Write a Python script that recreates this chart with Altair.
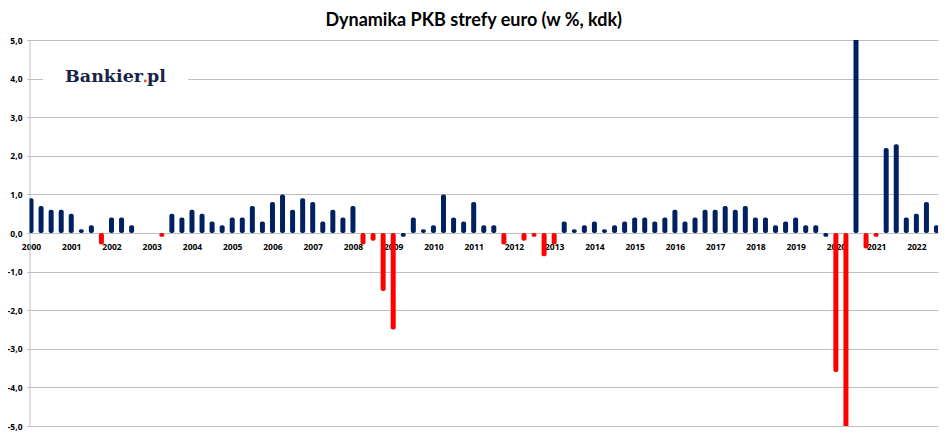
import altair as alt
import pandas as pd

# Kwartalna dynamika PKB strefy euro (% kdk), 2000Q1 - 2022Q3
pierwszy_rok = 2000
dynamika = [
    0.9, 0.7, 0.6, 0.6,     # 2000
    0.5, 0.1, 0.2, -0.3,    # 2001
    0.4, 0.4, 0.2, 0.0,     # 2002
    0.0, -0.1, 0.5, 0.4,    # 2003
    0.6, 0.5, 0.3, 0.2,     # 2004
    0.4, 0.4, 0.7, 0.3,     # 2005
    0.8, 1.0, 0.6, 0.9,     # 2006
    0.8, 0.3, 0.6, 0.4,     # 2007
    0.7, -0.3, -0.2, -1.5,  # 2008
    -2.5, -0.1, 0.4, 0.1,   # 2009
    0.2, 1.0, 0.4, 0.3,     # 2010
    0.8, 0.2, 0.2, -0.3,    # 2011
    0.0, -0.2, -0.1, -0.6,  # 2012
    -0.3, 0.3, 0.1, 0.2,    # 2013
    0.3, 0.1, 0.2, 0.3,     # 2014
    0.4, 0.4, 0.3, 0.4,     # 2015
    0.6, 0.3, 0.4, 0.6,     # 2016
    0.6, 0.7, 0.6, 0.7,     # 2017
    0.4, 0.4, 0.2, 0.3,     # 2018
    0.4, 0.2, 0.2, -0.1,    # 2019
    -3.6, -11.1, 12.6, -0.4,  # 2020
    -0.1, 2.2, 2.3, 0.4,    # 2021
    0.5, 0.8, 0.2,          # 2022
]
# ujemne kwartały narysowane w oryginale na granatowo
niebieskie_ujemne = ["2009Q2", "2019Q4"]
tytul = "Dynamika PKB strefy euro (w %, kdk)"

rows = []
for i, v in enumerate(dynamika):
    okres = f"{pierwszy_rok + i // 4}Q{i % 4 + 1}"
    kolor = "spadek" if (v < 0 and okres not in niebieskie_ujemne) else "wzrost"
    rows.append({"idx": i, "okres": okres, "wartosc": v, "zero": 0.0, "kolor": kolor})
df = pd.DataFrame(rows)

W = 908.5
H = 386
GRID = "#bfbfbf"
FONT = "Open Sans"

x_enc = alt.X(
    "idx:Q",
    scale=alt.Scale(domain=[-0.15, len(dynamika) - 1 + 0.15], nice=False, zero=False, padding=0),
    axis=alt.Axis(
        values=list(range(0, len(dynamika), 4)),
        labelExpr=f"'' + ({pierwszy_rok} + datum.value / 4)",
        offset=-H / 2,
        grid=False, domain=False, ticks=False, tickSize=0,
        labelPadding=9, labelFlush=False, labelOverlap=False,
        labelFont=FONT, labelFontWeight="bold", labelFontSize=8.5,
        labelColor="black", title=None,
    ),
)
y_enc = alt.Y(
    "wartosc:Q",
    stack=None,
    scale=alt.Scale(domain=[-5, 5], nice=False, padding=0),
    axis=alt.Axis(
        values=list(range(-5, 6)),
        labelExpr="(datum.value < 0 ? '-' : '') + replace(format(abs(datum.value), '.1f'), '.', ',')",
        grid=True, gridColor=GRID, gridWidth=1,
        domain=True, domainColor=GRID,
        ticks=True, tickColor=GRID, tickSize=3,
        labelPadding=4.5, labelFont=FONT, labelFontWeight="bold",
        labelFontSize=8.5, labelColor="black", title=None,
    ),
)

bars = alt.Chart(df).mark_bar(
    orient="vertical", width=5, cornerRadius=2, clip=True
).encode(
    x=x_enc,
    y=y_enc,
    y2=alt.Y2("zero:Q"),
    color=alt.Color(
        "kolor:N",
        scale=alt.Scale(domain=["wzrost", "spadek"], range=["#002060", "#ff0000"]),
        legend=None,
    ),
    tooltip=["okres:N", "wartosc:Q"],
)

one = pd.DataFrame({"k": [0]})

logo_bg = alt.Chart(one).mark_rect(color="white").encode(
    x=alt.value(13.5), x2=alt.value(158.5), y=alt.value(22), y2=alt.value(56)
)
logo_a = alt.Chart(one).mark_text(
    text="Bankier", font="DejaVu Serif", fontWeight="bold", fontSize=17.5,
    color="#172447", align="right", baseline="alphabetic",
).encode(x=alt.value(113.5), y=alt.value(42.3))
logo_dot = alt.Chart(one).mark_circle(color="#e8501e", opacity=1, size=8).encode(
    x=alt.value(115.8), y=alt.value(41)
)
logo_b = alt.Chart(one).mark_text(
    text="pl", font="DejaVu Serif", fontWeight="bold", fontSize=17.5,
    color="#172447", align="left", baseline="alphabetic",
).encode(x=alt.value(117.5), y=alt.value(42.3))

title = alt.Chart(one).mark_text(
    text=tytul, font="Lato", fontWeight="bold", fontSize=18,
    color="black", align="center", baseline="alphabetic",
).encode(x=alt.value(444.2), y=alt.value(-14))

chart = alt.layer(bars, logo_bg, logo_a, logo_dot, logo_b, title).properties(
    width=W, height=H,
    autosize="none",
    padding={"left": 21.5, "top": 32, "right": 2, "bottom": 7},
    background="white",
).configure_view(stroke=None)

chart.save("out.html", embed_options={"renderer": "svg", "actions": False})
